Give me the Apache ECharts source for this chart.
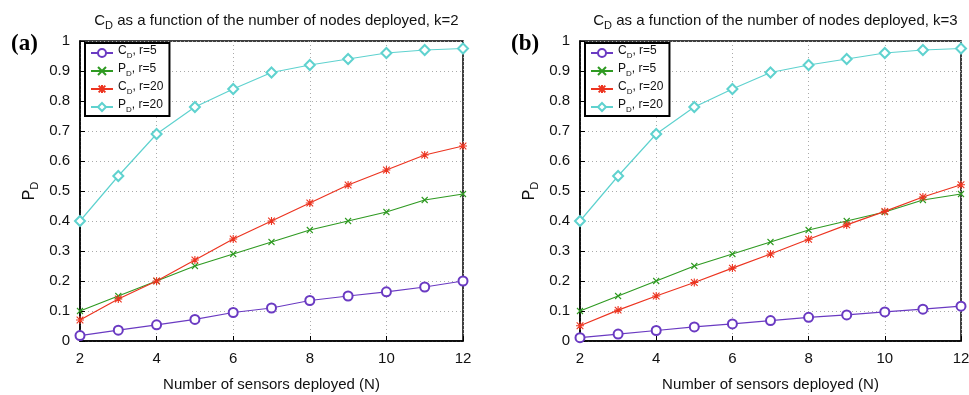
<!DOCTYPE html>
<html>
<head>
<meta charset="utf-8">
<script src="https://cdn.jsdelivr.net/npm/echarts@6/dist/echarts.min.js"></script>
<style>
  html, body { margin: 0; padding: 0; background: #fff; }
  #chart { width: 969px; height: 395px; }
</style>
</head>
<body>
<div id="chart"></div>
<script>
// sensors deployed (N)
const nodes = [2, 3, 4, 5, 6, 7, 8, 9, 10, 11, 12];

// panel (a), k=2
const cdR5K2 = [0.018, 0.036, 0.054, 0.072, 0.095, 0.11, 0.135, 0.15, 0.164, 0.18, 0.2];
const pdR5K2 = [0.1, 0.15, 0.2, 0.25, 0.29, 0.33, 0.37, 0.4, 0.43, 0.47, 0.49];
const cdR20K2 = [0.07, 0.14, 0.2, 0.27, 0.34, 0.4, 0.46, 0.52, 0.57, 0.62, 0.65];
const pdR20K2 = [0.4, 0.55, 0.69, 0.78, 0.84, 0.895, 0.92, 0.94, 0.96, 0.97, 0.975];

// panel (b), k=3
const cdR5K3 = [0.011, 0.023, 0.035, 0.047, 0.057, 0.068, 0.079, 0.087, 0.097, 0.106, 0.116];
const pdR5K3 = [0.1, 0.15, 0.2, 0.25, 0.29, 0.33, 0.37, 0.4, 0.43, 0.47, 0.49];
const cdR20K3 = [0.051, 0.103, 0.15, 0.195, 0.243, 0.29, 0.339, 0.387, 0.432, 0.48, 0.521];
const pdR20K3 = [0.4, 0.55, 0.69, 0.78, 0.84, 0.895, 0.92, 0.94, 0.96, 0.97, 0.975];

const seriesNames = ['C_D, r=5', 'P_D, r=5', 'C_D, r=20', 'P_D, r=20'];
const yTicks = ['0', '0.1', '0.2', '0.3', '0.4', '0.5', '0.6', '0.7', '0.8', '0.9', '1'];

const FONT = '"Liberation Sans", Arial, sans-serif';
const colors = ['#6a3ac2', '#2f9a22', '#ec3420', '#5fd2cf'];
const symbols = [
  'emptyCircle',
  'path://M0,0L10,10M10,0L0,10',
  'path://M0,0L10,10M10,0L0,10M5,-1L5,11M-1,5L11,5',
  'emptyDiamond'
];
const symbolSizes = [9, 6, 8, 10];

// turn "C_D, r=5" into rich text with a subscript
const sub = s => s.replace(/^([A-Z])_([A-Z])(.*)$/, '{a|$1}{s|$2}{a|$3}');

const richText = size => ({
  a: { fontSize: size, fontFamily: FONT, fontWeight: 'normal', color: '#111', padding: [0, 0, 4, 0] },
  s: { fontSize: Math.round(size * 0.7), fontFamily: FONT, fontWeight: 'normal', color: '#111', padding: [6, 0, 0, 0] }
});

const grids = [
  { left: 80, top: 41, width: 383, height: 300 },
  { left: 580, top: 41, width: 381, height: 300 }
];

const panels = [
  { data: [cdR5K2, pdR5K2, cdR20K2, pdR20K2], title: 'C_D as a function of the number of nodes deployed, k=2', tag: '(a)' },
  { data: [cdR5K3, pdR5K3, cdR20K3, pdR20K3], title: 'C_D as a function of the number of nodes deployed, k=3', tag: '(b)' }
];

const chart = echarts.init(document.getElementById('chart'), null, { renderer: 'canvas' });

const option = {
  backgroundColor: '#fff',
  animation: false,
  title: [],
  legend: [],
  grid: grids.map(g => Object.assign({
    show: true, borderColor: '#000', borderWidth: 1.5, backgroundColor: 'transparent',
    containLabel: false, outerBoundsMode: 'none'
  }, g)),
  xAxis: [],
  yAxis: [],
  series: []
};

panels.forEach((p, i) => {
  const g = grids[i];
  option.title.push({
    text: sub(p.title),
    left: g.left + g.width / 2,
    textAlign: 'center',
    top: 8,
    textStyle: { fontWeight: 'normal', rich: richText(15) }
  });
  option.title.push({
    text: p.tag,
    left: g.left - 74,
    top: 28,
    textStyle: { fontFamily: '"Liberation Serif", "Times New Roman", serif', fontWeight: 'bold', fontSize: 23, color: '#000' }
  });
  option.legend.push({
    left: g.left + 5,
    top: 43,
    orient: 'vertical',
    data: seriesNames,
    itemWidth: 22,
    itemHeight: 10,
    itemGap: 3,
    padding: [2, 6, 2, 5],
    backgroundColor: '#fff',
    borderColor: '#000',
    borderWidth: 2,
    borderRadius: 0,
    selectedMode: false,
    formatter: name => sub(name),
    textStyle: { rich: richText(12) }
  });
  option.xAxis.push({
    type: 'value',
    gridIndex: i,
    min: 2,
    max: 12,
    interval: 2,
    name: 'Number of sensors deployed (N)',
    nameLocation: 'middle',
    nameGap: 36,
    nameTextStyle: { fontFamily: FONT, fontSize: 15, color: '#111' },
    axisLine: { show: true, lineStyle: { color: '#000', width: 1.5 } },
    axisTick: { show: true, inside: true, length: 5, lineStyle: { color: '#000' } },
    axisLabel: { fontFamily: FONT, fontSize: 15, color: '#111', margin: 10 },
    splitLine: { show: true, lineStyle: { color: '#aaa', type: [1, 3], width: 1 } }
  });
  option.yAxis.push({
    type: 'value',
    gridIndex: i,
    min: 0,
    max: 1,
    interval: 0.1,
    name: '{a|P}{s|D}',
    nameLocation: 'middle',
    nameRotate: 90,
    nameGap: 38,
    nameTextStyle: { rich: richText(16) },
    axisLine: { show: true, lineStyle: { color: '#000', width: 1.5 } },
    axisTick: { show: true, inside: true, length: 5, lineStyle: { color: '#000' } },
    axisLabel: {
      fontFamily: FONT, fontSize: 15, color: '#111', margin: 10,
      formatter: v => yTicks[Math.round(v * 10)]
    },
    splitLine: { show: true, lineStyle: { color: '#aaa', type: [1, 3], width: 1 } }
  });
  p.data.forEach((vals, j) => {
    option.series.push({
      type: 'line',
      name: seriesNames[j],
      xAxisIndex: i,
      yAxisIndex: i,
      data: nodes.map((n, k) => [n, vals[k]]),
      symbol: symbols[j],
      symbolSize: symbolSizes[j],
      showAllSymbol: true,
      color: colors[j],
      lineStyle: { color: colors[j], width: 1.2 },
      itemStyle: { color: colors[j], borderColor: colors[j], borderWidth: 1.1 },
      z: 2 + j
    });
  });
});

chart.setOption(option);
</script>
</body>
</html>
